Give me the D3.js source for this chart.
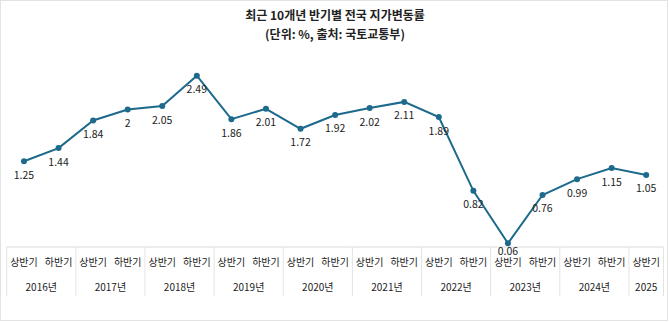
<!DOCTYPE html>
<html><head><meta charset="utf-8">
<script src="https://cdn.jsdelivr.net/npm/d3@7"></script>
<style>
html,body{margin:0;padding:0;background:#fff;}
svg{display:block;font-family:"Noto Sans CJK KR","Noto Sans",sans-serif;}
</style></head>
<body><svg id="c" width="670" height="323"></svg>
<script>
const years = ["2016년","2017년","2018년","2019년","2020년","2021년","2022년","2023년","2024년","2025"];
const halves = ["상반기","하반기"];
const periods = ["2016-1","2016-2","2017-1","2017-2","2018-1","2018-2","2019-1","2019-2","2020-1","2020-2","2021-1","2021-2","2022-1","2022-2","2023-1","2023-2","2024-1","2024-2","2025-1"];
const values = [1.25,1.44,1.84,2,2.05,2.49,1.86,2.01,1.72,1.92,2.02,2.11,1.89,0.82,0.06,0.76,0.99,1.15,1.05];
const title = "최근 10개년 반기별 전국 지가변동률";
const subtitle = "(단위: %, 출처: 국토교통부)";

const svg = d3.select("#c");
const W = 670, H = 323;
const color = "#1d6a8c";

svg.append("rect").attr("x",0.5).attr("y",0.5).attr("width",W-3).attr("height",H-3)
  .attr("fill","none").attr("stroke","#e3e3e3");

svg.append("text").attr("x",335).attr("y",20).attr("text-anchor","middle")
  .attr("font-size",12).attr("font-weight","bold").attr("fill","#222").text(title);
svg.append("text").attr("x",335).attr("y",39).attr("text-anchor","middle")
  .attr("font-size",12).attr("font-weight","bold").attr("fill","#222").text(subtitle);

const x = d3.scaleBand().domain(periods).range([6.7,663.5]);
const y = d3.scaleLinear().domain([0,2.5]).range([247.4,75]);
const cx = d => x(d) + x.bandwidth()/2;

const tableTop = 247, tableBottom = 296;
const g = svg.append("g");
g.append("line").attr("x1",x.range()[0]).attr("x2",x.range()[1]).attr("y1",tableTop).attr("y2",tableTop)
  .attr("stroke","#dcdcdc");
const yearOf = p => p.slice(0,4);
const yearGroups = d3.groups(periods, yearOf);
yearGroups.forEach(([yr, ps], i) => {
  const x0 = x(ps[0]), x1 = x(ps[ps.length-1]) + x.bandwidth();
  g.append("line").attr("x1",x0).attr("x2",x0).attr("y1",tableTop).attr("y2",tableBottom).attr("stroke","#e3e3e3");
  if (i === yearGroups.length-1)
    g.append("line").attr("x1",x1).attr("x2",x1).attr("y1",tableTop).attr("y2",tableBottom).attr("stroke","#e3e3e3");
  g.append("text").attr("x",(x0+x1)/2).attr("y",290.5).attr("text-anchor","middle")
    .attr("font-size",10).attr("fill","#222").text(years[i]);
});
periods.forEach(p => {
  const h = +p.slice(5) - 1;
  g.append("text").attr("x",cx(p)).attr("y",265.5).attr("text-anchor","middle")
    .attr("font-size",10).attr("fill","#222").text(halves[h]);
});

const line = d3.line().x((d,i)=>cx(periods[i])).y(d=>y(d));
svg.append("path").datum(values).attr("d",line).attr("fill","none")
  .attr("stroke",color).attr("stroke-width",2);
svg.selectAll("circle.pt").data(values).join("circle").attr("class","pt")
  .attr("cx",(d,i)=>cx(periods[i])).attr("cy",d=>y(d)).attr("r",3).attr("fill",color);
svg.selectAll("text.lbl").data(values).join("text").attr("class","lbl")
  .attr("x",(d,i)=>cx(periods[i])).attr("y",d=>Math.min(y(d)+17.5, 255))
  .attr("text-anchor","middle").attr("font-size",10.5).attr("fill","#222").text(d=>d);
</script></body></html>
